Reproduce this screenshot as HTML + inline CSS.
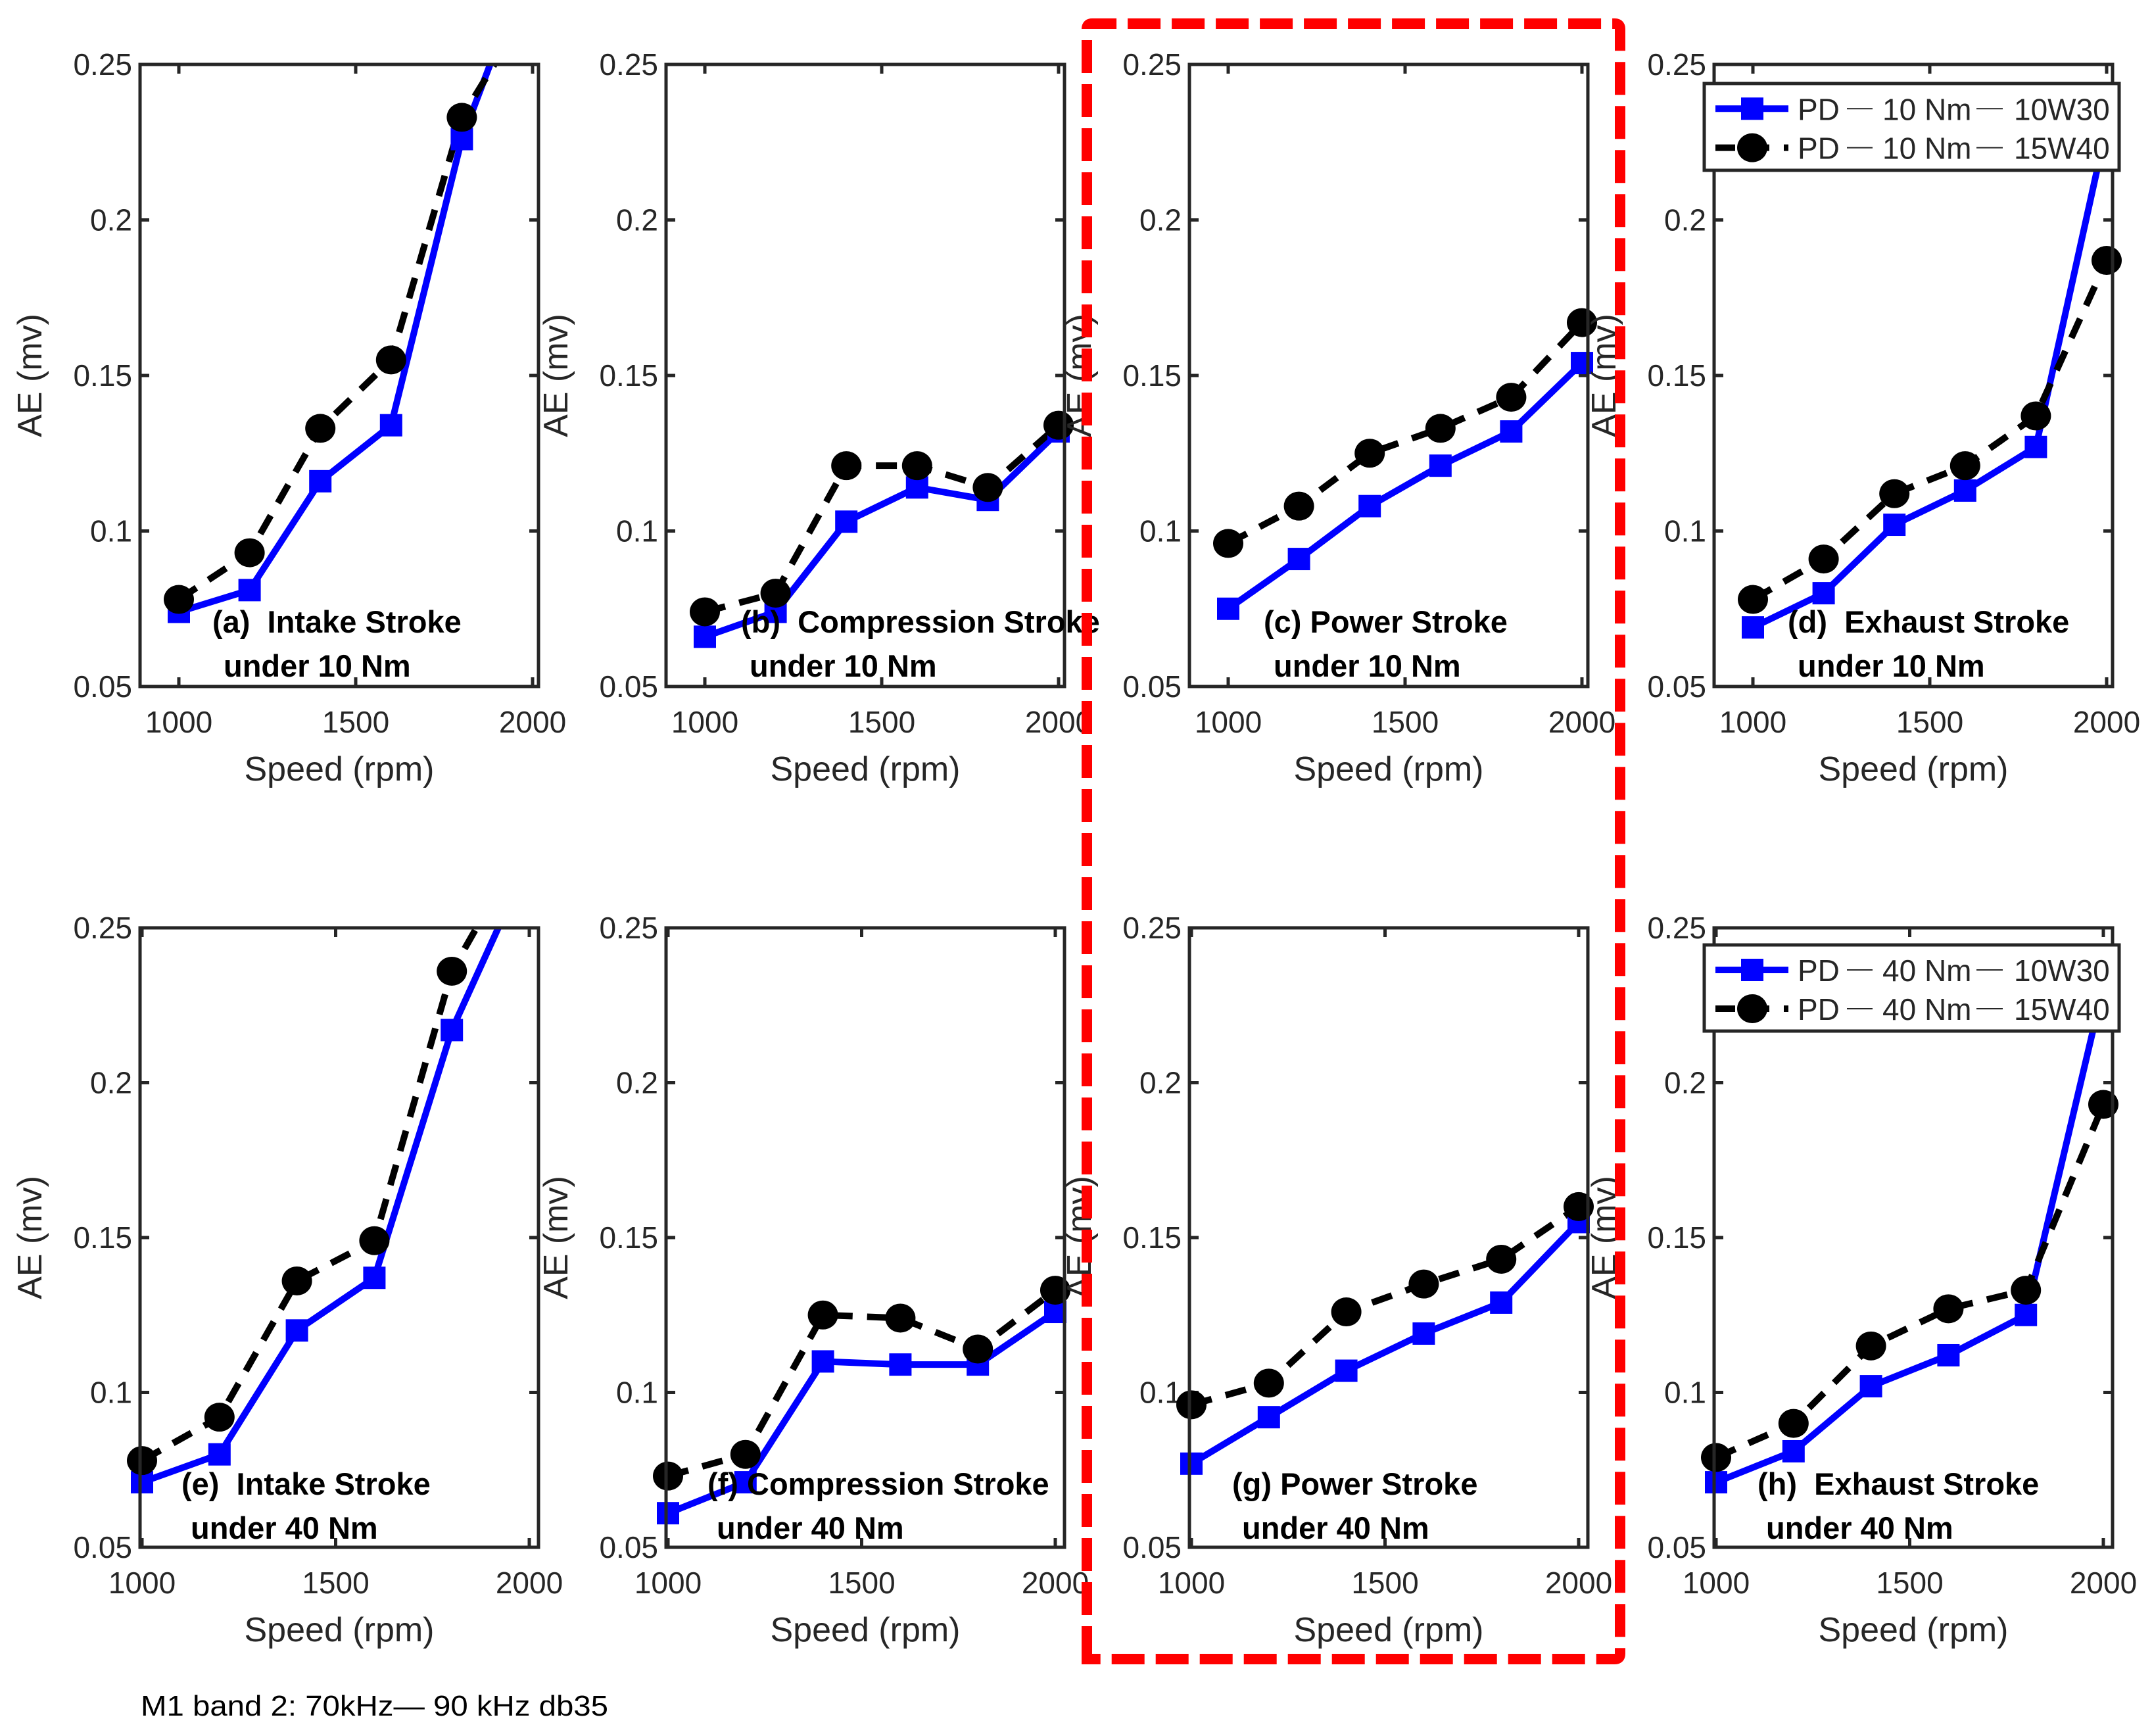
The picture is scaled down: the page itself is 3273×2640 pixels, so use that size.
<!DOCTYPE html>
<html><head><meta charset="utf-8"><style>
html,body{margin:0;padding:0;background:#fff;}
svg{display:block;}
text{font-family:"Liberation Sans",sans-serif;fill:#262626;white-space:pre;}
</style></head><body>
<svg id="fig" width="3273" height="2640" viewBox="0 0 3273 2640" xmlns="http://www.w3.org/2000/svg" xml:space="preserve"></svg>
<script>
const speeds = [1000, 1200, 1400, 1600, 1800, 2000];
const yTicks = [0.05, 0.1, 0.15, 0.2, 0.25];
const yTickLabels = ["0.05", "0.1", "0.15", "0.2", "0.25"];
const xTicks = [1000, 1500, 2000];
const xTickLabels = ["1000", "1500", "2000"];
const panelIds = ["a","b","c","d","e","f","g","h"];
const blueA = [0.074, 0.081, 0.116, 0.134, 0.226, 0.286];
const blackA = [0.078, 0.093, 0.133, 0.155, 0.233, 0.270];
const blueB = [0.066, 0.074, 0.103, 0.114, 0.110, 0.132];
const blackB = [0.074, 0.080, 0.121, 0.121, 0.114, 0.134];
const blueC = [0.075, 0.091, 0.108, 0.121, 0.132, 0.154];
const blackC = [0.096, 0.108, 0.125, 0.133, 0.143, 0.167];
const blueD = [0.069, 0.080, 0.102, 0.113, 0.127, 0.230];
const blackD = [0.078, 0.091, 0.112, 0.121, 0.137, 0.187];
const blueE = [0.071, 0.080, 0.120, 0.137, 0.217, 0.272];
const blackE = [0.078, 0.092, 0.136, 0.149, 0.236, 0.280];
const blueF = [0.061, 0.071, 0.110, 0.109, 0.109, 0.126];
const blackF = [0.073, 0.080, 0.125, 0.124, 0.114, 0.133];
const blueG = [0.077, 0.092, 0.107, 0.119, 0.129, 0.155];
const blackG = [0.096, 0.103, 0.126, 0.135, 0.143, 0.160];
const blueH = [0.071, 0.081, 0.102, 0.112, 0.125, 0.231];
const blackH = [0.079, 0.090, 0.115, 0.127, 0.133, 0.193];
const blueSeries = [blueA, blueB, blueC, blueD, blueE, blueF, blueG, blueH];
const blackSeries = [blackA, blackB, blackC, blackD, blackE, blackF, blackG, blackH];
const titles1 = ["(a)  Intake Stroke","(b)  Compression Stroke","(c) Power Stroke","(d)  Exhaust Stroke","(e)  Intake Stroke","(f) Compression Stroke","(g) Power Stroke","(h)  Exhaust Stroke"];
const titles2 = ["under 10 Nm","under 10 Nm","under 10 Nm","under 10 Nm","under 40 Nm","under 40 Nm","under 40 Nm","under 40 Nm"];

const NS = "http://www.w3.org/2000/svg";
const svg = document.getElementById("fig");
function mk(tag, attrs, parent){
  const e = document.createElementNS(NS, tag);
  for (const k in attrs) e.setAttribute(k, attrs[k]);
  (parent||svg).appendChild(e);
  return e;
}
const colLeft = [213, 1013, 1809, 2607];
const W = 606;
const rowTop = [98, 1411], rowBot = [1044, 2353];
const xl1 = [[59, 597],[3, 592]];
const t1off = [[110,114,113,112],[63,63,65,66]];
const t2off = [[127,127,128,127],[77,77,80,79]];

const defs = mk("defs", {});
for (let p = 0; p < 8; p++) {
  const r = p < 4 ? 0 : 1, c = p % 4;
  const L = colLeft[c], R = L + W, T = rowTop[r], B = rowBot[r];
  const xs = v => L + xl1[r][0] + (v - 1000) / 1000 * (xl1[r][1] - xl1[r][0]);
  const ys = v => B - (v - 0.05) / 0.2 * (B - T);
  const g = mk("g", {});
  
  
  const cp = mk("clipPath", {id: "clip" + p}, defs);
  mk("rect", {x: L, y: T, width: W, height: B - T}, cp);
  yTicks.forEach((v, i) => {
    const y = ys(v);
    mk("line", {x1: L, x2: L + 14, y1: y, y2: y, stroke: "#262626", "stroke-width": 5}, g);
    mk("line", {x1: R, x2: R - 14, y1: y, y2: y, stroke: "#262626", "stroke-width": 5}, g);
    const t = mk("text", {x: L - 12, y: y + 16, "text-anchor": "end", "font-size": 46}, g);
    t.textContent = yTickLabels[i];
    
    
  });
  xTicks.forEach((v, i) => {
    const x = xs(v);
    mk("line", {x1: x, x2: x, y1: B, y2: B - 14, stroke: "#262626", "stroke-width": 5}, g);
    mk("line", {x1: x, x2: x, y1: T, y2: T + 14, stroke: "#262626", "stroke-width": 5}, g);
    const t = mk("text", {x: x, y: B + 70, "text-anchor": "middle", "font-size": 46}, g);
    t.textContent = xTickLabels[i];
    
    
  });
  const cg = mk("g", {"clip-path": "url(#clip" + p + ")"}, g);
  const pb = speeds.map((s, i) => xs(s) + "," + ys(blueSeries[p][i])).join(" ");
  const pk = speeds.map((s, i) => xs(s) + "," + ys(blackSeries[p][i])).join(" ");
  const lb = mk("polyline", {points: pb, fill: "none", stroke: "#0000ff", "stroke-width": 10}, cg);
  
  
  speeds.forEach((s, i) => {
    const v = blueSeries[p][i];
    if (v <= 0.25) {
      const m = mk("rect", {x: xs(s) - 17, y: ys(v) - 17, width: 34, height: 34, fill: "#0000ff"}, g);
      
      
    }
  });
  const lk = mk("polyline", {points: pk, fill: "none", stroke: "#000", "stroke-width": 10, "stroke-dasharray": "32 22"}, cg);
  
  
  speeds.forEach((s, i) => {
    const v = blackSeries[p][i];
    if (v <= 0.25) {
      const m = mk("ellipse", {cx: xs(s), cy: ys(v), rx: 23, ry: 22, fill: "#000"}, g);
      
      
    }
  });
  const fr = mk("rect", {x: L, y: T, width: W, height: B - T, fill: "none", stroke: "#262626", "stroke-width": 5}, g);
  
  
  const a1 = mk("text", {x: L + t1off[r][c], y: r ? 2273 : 962, "font-size": 47, "font-weight": "bold", style: "fill:#000"}, g);
  a1.textContent = titles1[p];
  
  
  const a2 = mk("text", {x: L + t2off[r][c], y: r ? 2340 : 1029, "font-size": 47, "font-weight": "bold", style: "fill:#000"}, g);
  a2.textContent = titles2[p];
  
  
  const xt = mk("text", {x: (L + R) / 2, y: B + 143, "text-anchor": "middle", "font-size": 52}, g);
  xt.textContent = "Speed (rpm)";
  
  
  const cx = L - 150, cy = (T + B) / 2;
  const yt = mk("text", {x: cx, y: cy, "text-anchor": "middle", "font-size": 52, transform: "rotate(-90 " + cx + " " + cy + ")"}, g);
  yt.textContent = "AE (mv)";
  
  
}

const legendTorque = ["10 Nm", "40 Nm"];
const legendOil = ["10W30", "15W40"];
[[127, 259], [1437, 1568]].forEach((yy, li) => {
  const g = mk("g", {});
  
  
  mk("rect", {x: 2592, y: yy[0], width: 631, height: yy[1] - yy[0], fill: "#fff", stroke: "#262626", "stroke-width": 5}, g);
  const rowsY = [yy[0] + (yy[1] - yy[0]) * 0.29, yy[0] + (yy[1] - yy[0]) * 0.74];
  rowsY.forEach((y, k) => {
    const e = mk("g", {}, g);
    
    
    if (k === 0) {
      mk("line", {x1: 2609, x2: 2720, y1: y, y2: y, stroke: "#0000ff", "stroke-width": 10}, e);
      mk("rect", {x: 2648, y: y - 17, width: 34, height: 34, fill: "#0000ff"}, e);
    } else {
      mk("line", {x1: 2609, x2: 2720, y1: y, y2: y, stroke: "#000", "stroke-width": 10, "stroke-dasharray": "30 22"}, e);
      mk("ellipse", {cx: 2665, cy: y, rx: 23, ry: 22, fill: "#000"}, e);
    }
    const t1 = mk("text", {x: 2734, y: y + 17, "font-size": 46}, e); t1.textContent = "PD";
    mk("line", {x1: 2809, x2: 2848, y1: y, y2: y, stroke: "#262626", "stroke-width": 2}, e);
    const t2 = mk("text", {x: 2863, y: y + 17, "font-size": 46}, e); t2.textContent = legendTorque[li];
    mk("line", {x1: 3006, x2: 3046, y1: y, y2: y, stroke: "#262626", "stroke-width": 2}, e);
    const t3 = mk("text", {x: 3063, y: y + 17, "font-size": 46}, e); t3.textContent = legendOil[k];
  });
});

const hb = mk("path", {d: "M1653 2523 L1653 44 Q1653 36 1661 36 L2456 36 Q2464 36 2464 44 L2464 2515 Q2464 2523 2456 2523 Z", fill: "none", stroke: "#ff0000", "stroke-width": 16, "stroke-dasharray": "50 17"});



const fn = mk("text", {x: 214, y: 2609, "font-size": 44, textLength: 711, lengthAdjust: "spacingAndGlyphs", style: "fill:#000"});
fn.textContent = "M1 band 2: 70kHz\u2014 90 kHz db35";


</script>
</body></html>
